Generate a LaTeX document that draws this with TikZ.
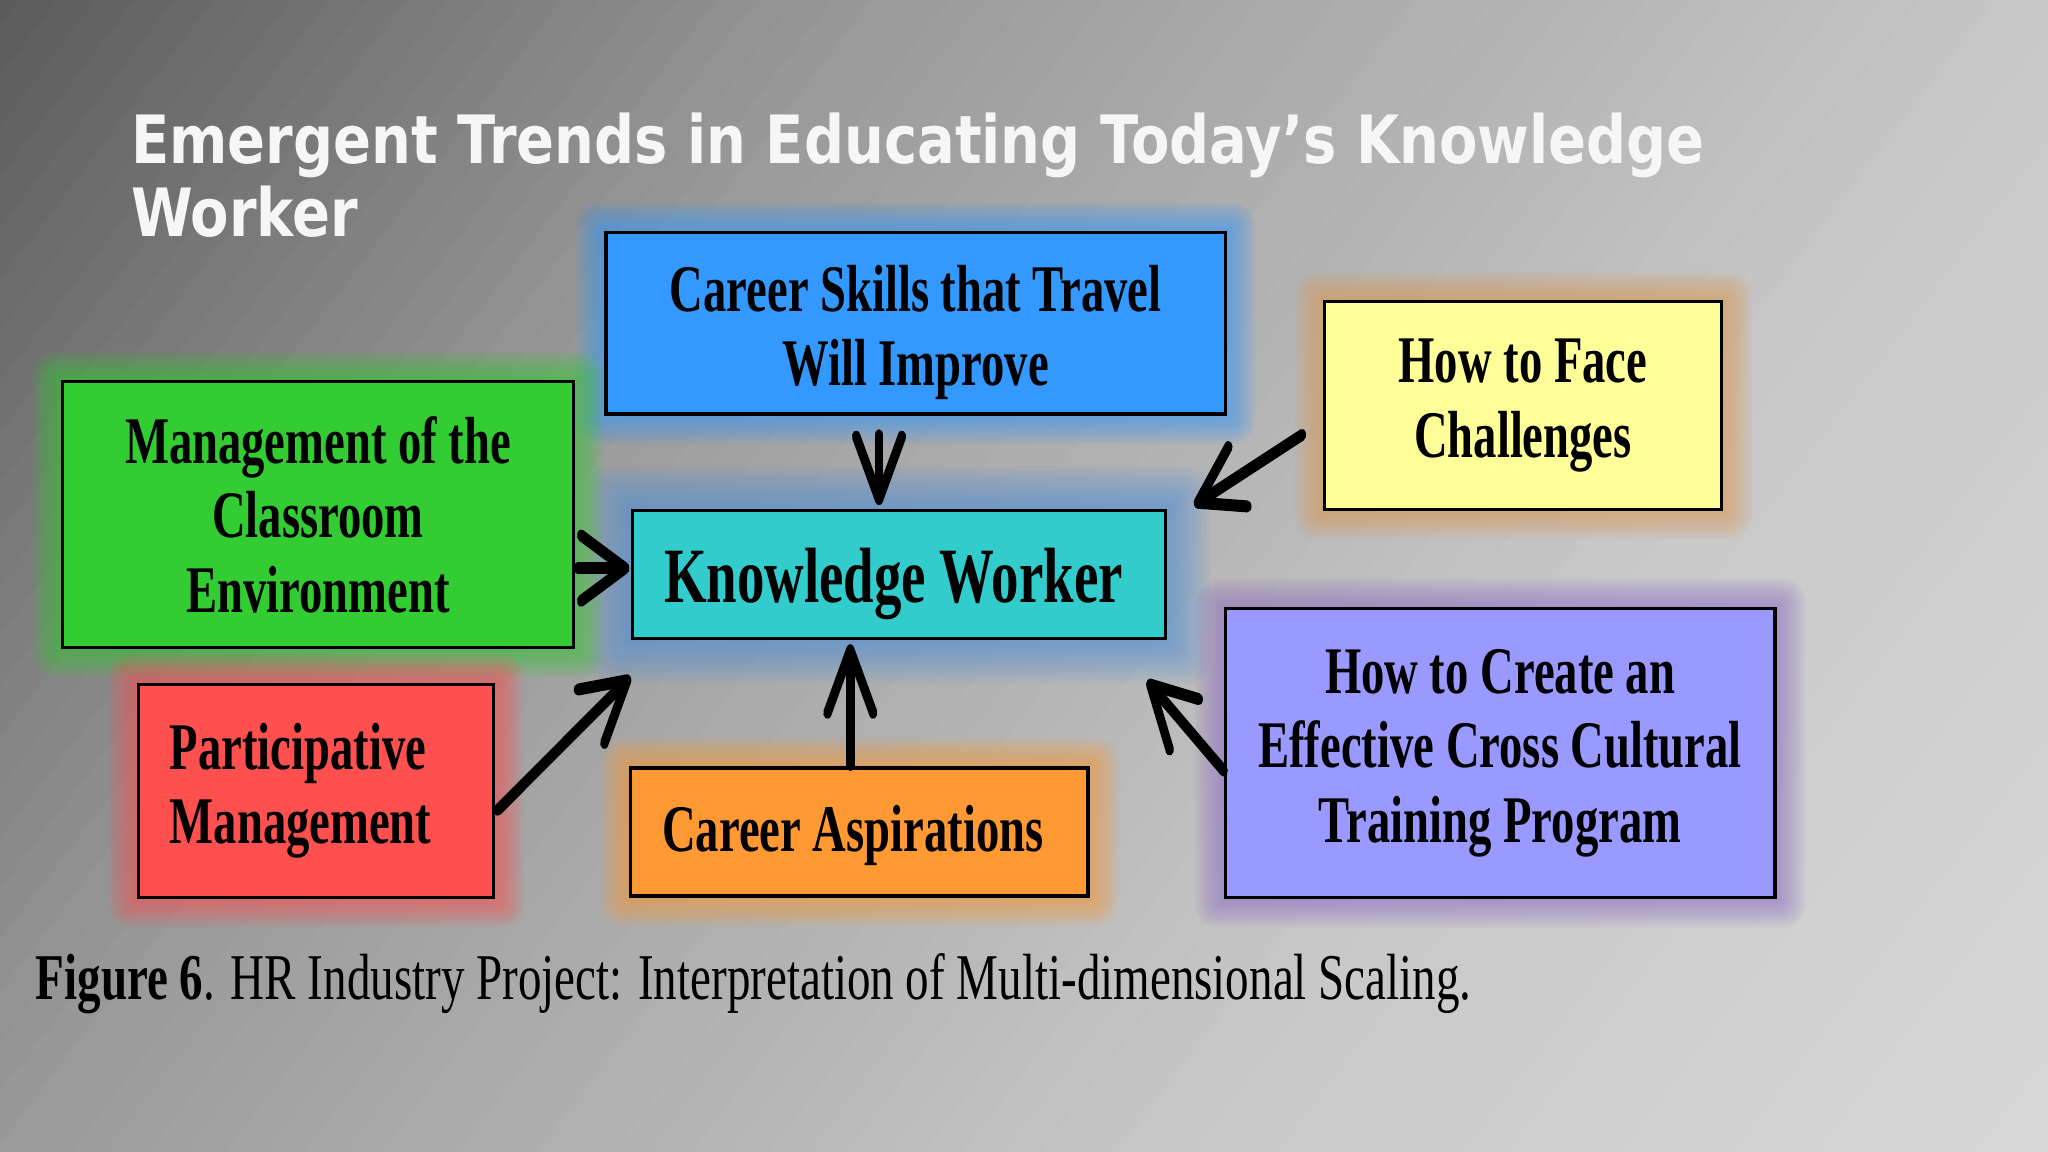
\documentclass[tikz,border=0pt]{standalone}
\usepackage{fontspec}
\usetikzlibrary{arrows.meta,calc}
\newfontfamily\boxfont[FakeStretch=0.7]{Liberation Serif}
\newfontfamily\capfont[FakeStretch=0.72]{Liberation Serif}
\newfontfamily\titlefont[FakeStretch=0.84]{DejaVu Sans}
\definecolor{cgreen}{HTML}{33CC33}
\definecolor{cblue}{HTML}{3399FF}
\definecolor{ccyan}{HTML}{33CCCC}
\definecolor{cyellow}{HTML}{FFFF99}
\definecolor{cred}{HTML}{FF5050}
\definecolor{corange}{HTML}{FF9933}
\definecolor{cpurple}{HTML}{9999FF}
\definecolor{gyellow}{HTML}{E09A50}
\definecolor{gkw}{HTML}{4A8FE0}
\definecolor{gpurple}{HTML}{9070C8}
\definecolor{titlewhite}{HTML}{F6F6F6}
\pgfdeclarelayer{back}
\pgfdeclarelayer{glowl}
\pgfsetlayers{back,glowl,main}
\newcommand\glowbox[3]{%
  \foreach \i in {1,...,11}{%
    \fill[#2, opacity=0.07, rounded corners=\i*0.8pt]
      ($(#1.north west)+(-\i*#3,-\i*#3)$) rectangle ($(#1.south east)+(\i*#3,\i*#3)$);}}
\newcommand\lowered[2]{\raisebox{-#1}[\height][\depth]{\begin{tabular}{@{}c@{}}#2\end{tabular}}}
\newcommand\arrowline[2]{\draw[arr] let \p1=(#1), \p2=(#2) in (\x1/0.7,\y1) -- (\x2/0.7,\y2);}
\begin{document}
\begin{tikzpicture}[x=0.5pt,y=-0.5pt,
  box/.style={draw=black, line width=1.2pt, inner sep=0pt, align=center,
    font=\boxfont\bfseries\fontsize{25.5}{28.5}\selectfont},
  arr/.style={line width=4.6pt, line cap=round,
    -{Straight Barb[length=24pt,width=25pt,round]}}]
\useasboundingbox (0,0) rectangle (1568,882);

\node[box, fill=cgreen, minimum width=195.5pt, minimum height=102pt] (green) at (243.5,394)
  {Management of the\\Classroom\\Environment};
\node[box, fill=cblue, minimum width=237pt, minimum height=69.5pt] (blue) at (701,247.5)
  {\lowered{4pt}{Career Skills that Travel\\Will Improve}};
\node[box, fill=ccyan, minimum width=204pt, minimum height=49pt,
  font=\boxfont\bfseries\fontsize{30}{34}\selectfont] (kw) at (688,440)
  {\raisebox{-3.5pt}[\height][\depth]{\hspace*{-4pt}Knowledge Worker}};
\node[box, fill=cyellow, minimum width=152pt, minimum height=79.5pt] (yellow) at (1166,310.5)
  {How to Face\\Challenges};
\node[box, fill=cred, minimum width=136pt, minimum height=81.5pt, align=left, text width=112pt]
  (red) at (242,605.5) {Participative\\Management};
\node[box, fill=corange, minimum width=175pt, minimum height=49pt] (orange) at (658,637)
  {\raisebox{-1.5pt}[\height][\depth]{\hspace*{-5pt}Career Aspirations}};
\node[box, fill=cpurple, minimum width=210.5pt, minimum height=110.5pt] (purple) at (1148.5,576.5)
  {How to Create an\\Effective Cross Cultural\\Training Program};

\node[anchor=north west, inner sep=0pt, text=titlewhite, align=left,
  font=\titlefont\bfseries\fontsize{25.5}{28}\selectfont] (title) at (100,86)
  {Emergent Trends in Educating Today’s Knowledge\\Worker};

\node[anchor=west, inner sep=0pt, font=\capfont\fontsize{25}{29}\selectfont] (caption) at (27,753)
  {\textbf{Figure 6}. HR Industry Project: Interpretation of Multi-dimensional Scaling.};

\begin{scope}[transform canvas={xscale=0.7}]
  \arrowline{$(blue.south)+(-28,15)$}{$(kw.north)+(-15,-3)$}
  \arrowline{$(green.east)+(2,41)$}{$(kw.west)+(-1,-5)$}
  \arrowline{$(red.east)+(2,14.5)$}{$(kw.south west)+(0,28)$}
  \arrowline{$(orange.north)+(-7,-1)$}{$(kw.south)+(-37,3)$}
  \arrowline{$(yellow.west)+(-16,22.5)$}{$(kw.north east)+(21,-3)$}
  \arrowline{$(purple.west)+(0,13.5)$}{$(kw.south east)+(-15,31)$}
\end{scope}

\begin{pgfonlayer}{glowl}
  \glowbox{kw}{gkw}{3}
  \glowbox{blue}{cblue}{2}
  \glowbox{green}{cgreen}{2}
  \glowbox{yellow}{gyellow}{2}
  \glowbox{red}{cred}{2}
  \glowbox{orange}{corange}{2}
  \glowbox{purple}{gpurple}{2}
\end{pgfonlayer}
\begin{pgfonlayer}{back}
  \begin{scope}
    \clip (0,0) rectangle (1568,882);
    \foreach \k in {0,...,79}{%
      \pgfmathsetmacro\bgfa{-0.02+\k*0.01325}%
      \pgfmathsetmacro\bgfb{\bgfa+0.0145}%
      \pgfmathsetmacro\bgfm{\bgfa+0.0066}%
      \pgfmathsetmacro\bgval{(\bgfm<0.3)?(91+210*max(\bgfm,0)):((\bgfm<0.7)?(154+115*(\bgfm-0.3)):(200+53.33*min(\bgfm-0.7,0.3)))}%
      \pgfmathsetmacro\bggray{\bgval/255}%
      \definecolor{bgc}{gray}{\bggray}%
      \fill[bgc] ({(\bgfa+0.015)/0.7*1568},-44) -- ({(\bgfb+0.015)/0.7*1568},-44)
        -- ({(\bgfb-0.315)/0.7*1568},926) -- ({(\bgfa-0.315)/0.7*1568},926) -- cycle;
    }
  \end{scope}
\end{pgfonlayer}
\end{tikzpicture}
\end{document}
